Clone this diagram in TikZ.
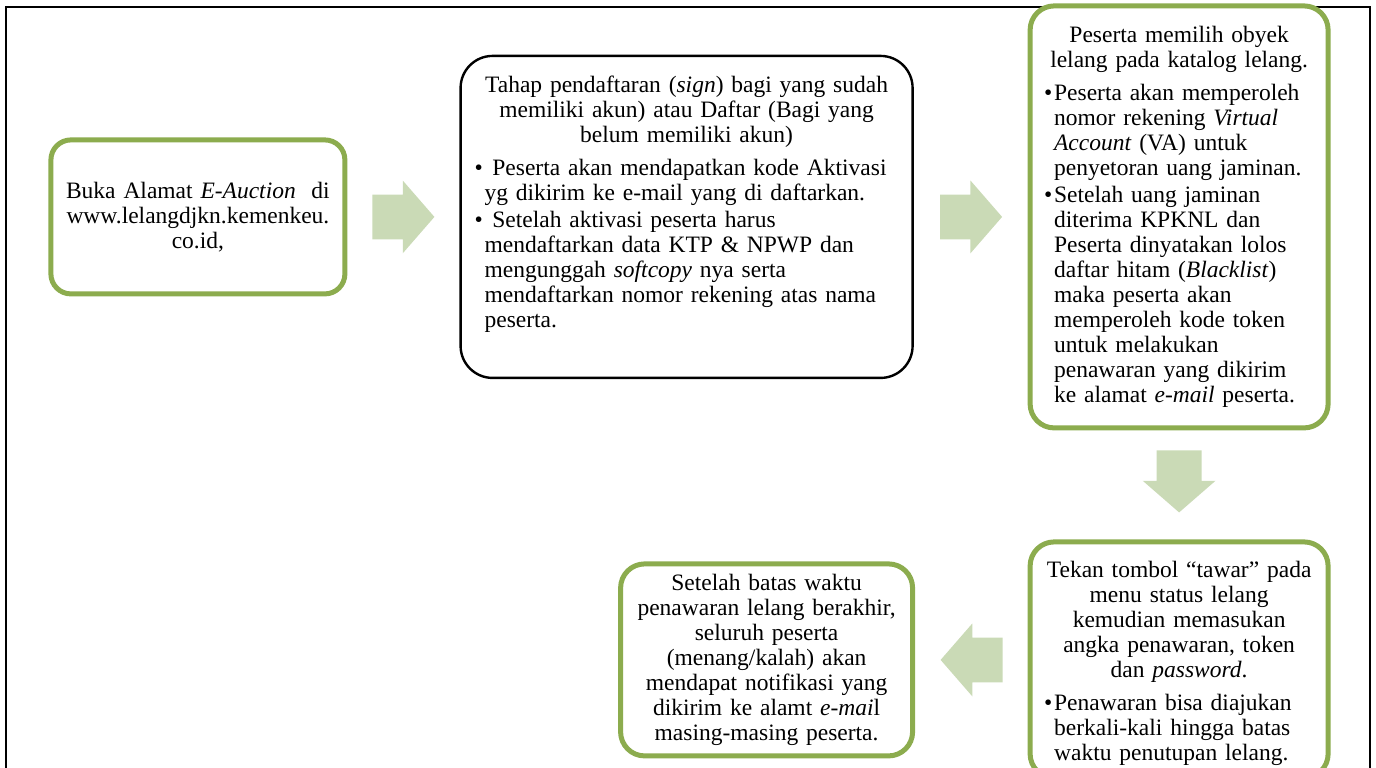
\documentclass[tikz,border=0pt]{standalone}
\usepackage{fontspec}
\setmainfont{Liberation Serif}
\usetikzlibrary{matrix,shapes.arrows}
\definecolor{hijau}{RGB}{140,172,78}
\definecolor{hijaumuda}{RGB}{202,218,182}
\newcommand{\judul}[1]{{\centering #1\par}\vspace{4pt}}
\newcommand{\butir}[1]{\par\hangindent=5pt\hangafter=1\noindent\makebox[5pt][l]{\textbullet}{\let\\\newline #1}\par\vspace{1pt}}
\tikzset{
  kotak/.style={draw=hijau, line width=2.5pt, rounded corners=12pt, fill=white,
    font=\fontsize{11.75}{12.5}\selectfont, align=left, inner ysep=4pt},
  kotakhitam/.style={kotak, draw=black, line width=1.2pt, rounded corners=16pt},
  panah/.style={single arrow, fill=hijaumuda, minimum height=31pt, text height=11pt, text depth=11pt,
    single arrow head extend=7pt, single arrow tip angle=98, inner sep=0pt}
}
\begin{document}
\begin{tikzpicture}[x=0.5pt,y=-0.5pt,ampersand replacement=\&]
  \useasboundingbox (0,0) rectangle (1376,767);
  \draw[line width=1pt] (6,7) rectangle (1370,800);
  \matrix (m) [matrix of nodes, row sep=10pt, column sep=12.5pt, nodes={anchor=center},
    inner sep=0pt, anchor=north west] at (48,3)
  { |[kotak, align=center, text width=137pt, inner xsep=5pt, minimum height=77pt, rounded corners=10pt]|
      {Buka Alamat \textit{E-Auction}\ \ di\\www.lelangdjkn.kemenkeu.\\co.id,}
    \& |[panah, xshift=-5pt]| {}
    \& |[kotakhitam, text width=212pt, inner xsep=7pt, minimum height=161pt]|
      {\judul{Tahap pendaftaran (\textit{sign}) bagi yang sudah\\memiliki akun) atau Daftar (Bagi yang\\belum memiliki akun)}
       \butir{\ Peserta akan mendapatkan kode Aktivasi\\yg dikirim ke e-mail yang di daftarkan.}
       \butir{\ Setelah aktivasi peserta harus\\mendaftarkan data KTP \char38{} NPWP dan\\mengunggah \textit{softcopy} nya serta\\mendaftarkan nomor rekening atas nama\\peserta.\rule[-15pt]{0pt}{0pt}}}
    \& |[panah, xshift=-5pt]| {}
    \& |[kotak, text width=135pt, inner xsep=7pt, minimum height=211pt]|
      {\judul{Peserta memilih obyek\\lelang pada katalog lelang.}
       \butir{Peserta akan memperoleh\\nomor rekening \textit{Virtual}\\\textit{Account} (VA) untuk\\penyetoran uang jaminan.}
       \butir{Setelah uang jaminan\\diterima KPKNL dan\\Peserta dinyatakan lolos\\daftar hitam (\textit{Blacklist})\\maka peserta akan\\memperoleh kode token\\untuk melakukan\\penawaran yang dikirim\\ke alamat \textit{e-mail} peserta.}} \\
    \& \& \& \& |[panah, rotate=-90]| {} \\[3.5pt]
    \& \& |[kotak, align=center, text width=136pt, inner xsep=5pt, minimum height=96pt, xshift=40pt]|
      {Setelah batas waktu\\penawaran lelang berakhir,\\seluruh peserta\\(menang/kalah) akan\\mendapat notifikasi yang\\dikirim ke alamt \textit{e-mai}l\\masing-masing peserta.}
    \& |[panah, xshift=5pt, rotate=180]| {}
    \& |[kotak, text width=135pt, inner xsep=7pt, minimum height=118pt]|
      {\judul{\rule{0pt}{12pt}Tekan tombol “tawar” pada\\menu status lelang\\kemudian memasukan\\angka penawaran, token\\dan \textit{password}.}
       \butir{Penawaran bisa diajukan\\berkali-kali hingga batas\\waktu penutupan lelang.}} \\
  };
\end{tikzpicture}
\end{document}
